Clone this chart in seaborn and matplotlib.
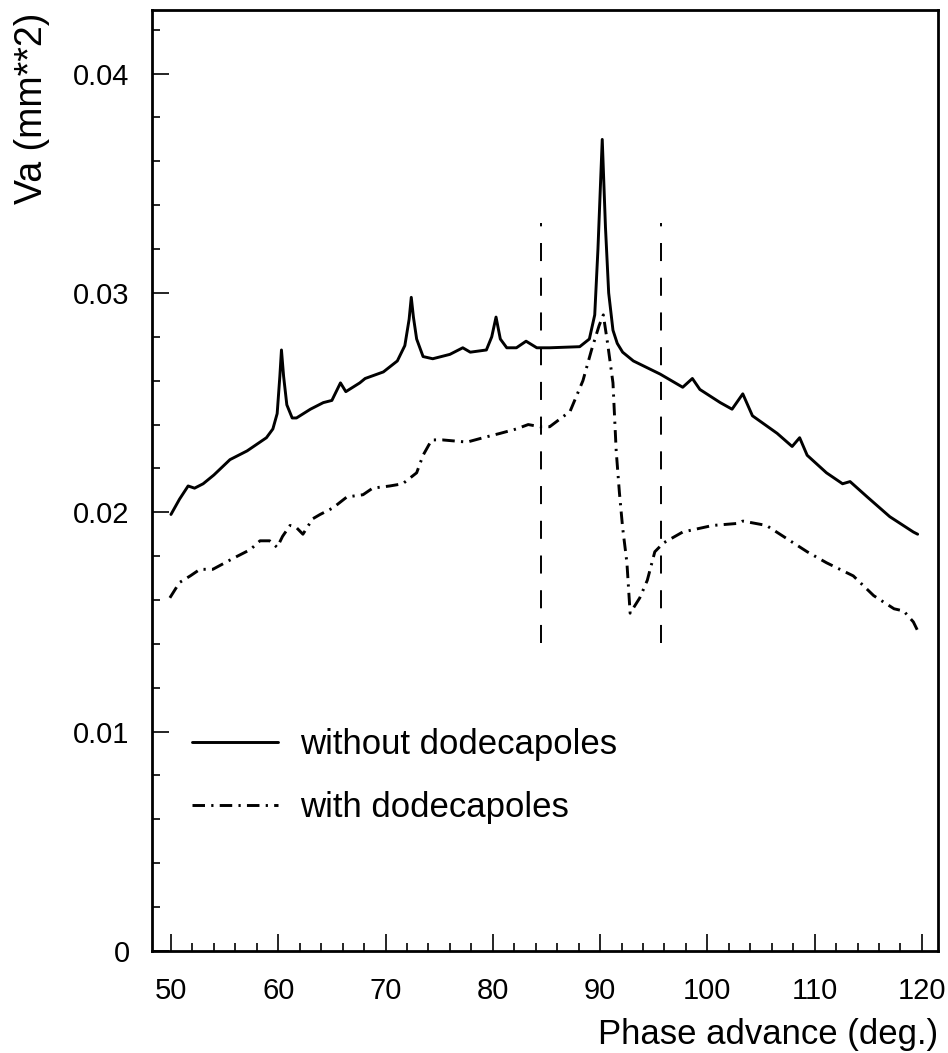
import numpy as np
import pandas as pd
import matplotlib
matplotlib.use("Agg")
import matplotlib.pyplot as plt
from matplotlib.ticker import MultipleLocator, FixedLocator
import seaborn as sns

# Phase advance scan (deg.) and the resulting Va (mm**2)
phase_without = [50.0, 50.8, 51.6, 52.2, 53.0, 54.0, 55.5, 57.1, 58.0, 58.9, 59.5, 59.9,
                 60.15, 60.3, 60.5, 60.8, 61.3, 61.7, 63.0, 64.2, 65.0, 65.8, 66.3, 67.6,
                 68.1, 69.8, 71.1, 71.8, 72.2, 72.4, 72.6, 72.9, 73.5, 74.4, 76.0, 77.2,
                 77.9, 79.4, 79.9, 80.3, 80.7, 81.3, 82.2, 83.1, 84.1, 85.3, 88.1, 89.0,
                 89.5, 89.8, 90.2, 90.5, 90.8, 91.2, 91.6, 92.1, 93.1, 95.6, 97.7, 98.6,
                 99.3, 101.2, 102.3, 103.3, 104.2, 106.5, 107.9, 108.6, 109.3, 111.1, 112.6,
                 113.3, 114.9, 117.0, 119.2, 119.6]
va_without = [0.0199, 0.0206, 0.0212, 0.0211, 0.0213, 0.0217, 0.0224, 0.0228, 0.0231, 0.0234,
              0.0238, 0.0245, 0.0262, 0.0274, 0.0262, 0.0249, 0.0243, 0.0243, 0.0247, 0.0250,
              0.0251, 0.0259, 0.0255, 0.0259, 0.0261, 0.0264, 0.0269, 0.0276, 0.0288, 0.0298,
              0.0289, 0.0279, 0.0271, 0.0270, 0.0272, 0.0275, 0.0273, 0.0274, 0.0280, 0.0289,
              0.0279, 0.0275, 0.0275, 0.0278, 0.0275, 0.0275, 0.02755, 0.0279, 0.0290, 0.0320,
              0.0370, 0.0330, 0.0300, 0.0283, 0.0277, 0.0273, 0.0269, 0.0263, 0.0257, 0.0261,
              0.0256, 0.0250, 0.0247, 0.0254, 0.0244, 0.0236, 0.0230, 0.0234, 0.0226, 0.0218,
              0.0213, 0.0214, 0.0207, 0.0198, 0.0191, 0.0190]

phase_with = [49.9, 50.8, 51.8, 52.7, 53.9, 55.8, 57.4, 58.3, 59.2, 59.9, 60.4, 61.1, 61.7,
              62.3, 63.2, 63.9, 65.1, 66.4, 67.9, 68.8, 70.4, 71.6, 72.9, 73.5, 74.3, 75.3,
              77.6, 79.1, 80.7, 82.2, 83.3, 84.4, 85.3, 87.2, 88.4, 89.2, 89.9, 90.3, 90.7,
              91.2, 91.5, 91.8, 92.1, 92.5, 92.8, 93.7, 94.4, 95.1, 95.9, 97.7, 100.5, 103.0,
              103.3, 105.5, 107.4, 109.3, 111.1, 113.6, 115.5, 117.4, 118.3, 119.2, 119.8]
va_with = [0.0161, 0.0168, 0.0171, 0.0174, 0.0174, 0.0179, 0.0183, 0.0187, 0.0187, 0.0184,
           0.0189, 0.0194, 0.0193, 0.0190, 0.0197, 0.0199, 0.0202, 0.0207, 0.0208, 0.0211,
           0.0212, 0.0213, 0.0218, 0.0226, 0.0233, 0.0233, 0.0232, 0.0234, 0.0236, 0.0238,
           0.0240, 0.0239, 0.0239, 0.0246, 0.0260, 0.0274, 0.0285, 0.0290, 0.0277, 0.0259,
           0.0228, 0.0209, 0.0193, 0.0177, 0.0154, 0.0161, 0.0169, 0.0182, 0.0186, 0.0191,
           0.0194, 0.0195, 0.0196, 0.0194, 0.0188, 0.0182, 0.0177, 0.0171, 0.0162, 0.0156,
           0.0155, 0.0150, 0.0144]

series_labels = ["without dodecapoles", "with dodecapoles"]

# Phase-advance window markers (dashed verticals) and their vertical extent
window_edges = [84.5, 95.7]
window_span = (0.01405, 0.0332)

x_major = [50, 60, 70, 80, 90, 100, 110, 120]
y_major = [0.0, 0.01, 0.02, 0.03, 0.04]
y_ticklabels = ["0", "0.01", "0.02", "0.03", "0.04"]

sns.set_theme(style="ticks")
plt.rcParams["font.family"] = ["Liberation Sans", "DejaVu Sans"]
plt.rcParams["lines.scale_dashes"] = False

df_without = pd.DataFrame({"phase": phase_without, "va": va_without})
df_with = pd.DataFrame({"phase": phase_with, "va": va_with})

fig = plt.figure(figsize=(9.48, 10.53), dpi=100)
ax = fig.add_axes([0.1603, 0.0969, 0.9895 - 0.1603, 0.9905 - 0.0969])

sns.lineplot(data=df_without, x="phase", y="va", ax=ax, color="black",
             linewidth=2.1, label=series_labels[0], sort=False, estimator=None)
sns.lineplot(data=df_with, x="phase", y="va", ax=ax, color="black",
             linewidth=2.1, linestyle=(0, (9, 4.5, 1.6, 4.5)),
             label=series_labels[1], sort=False, estimator=None)

ax.vlines(window_edges, window_span[0], window_span[1], colors="black",
          linewidth=1.4, linestyles=[(0, (13, 12))])

ax.set_xlim(48.23, 121.5)
ax.set_ylim(0, 0.0429)

ax.xaxis.set_major_locator(FixedLocator(x_major))
ax.xaxis.set_minor_locator(MultipleLocator(2))
ax.yaxis.set_major_locator(FixedLocator(y_major))
ax.yaxis.set_minor_locator(MultipleLocator(0.002))
ax.set_yticklabels(y_ticklabels)

ax.tick_params(which="both", direction="in", color="black", labelcolor="black",
               top=False, right=False, width=1.2)
ax.tick_params(which="major", length=12, labelsize=21)
ax.tick_params(which="minor", length=6)
ax.tick_params(axis="y", which="major", pad=16)
ax.tick_params(axis="x", which="major", pad=19)

for side in ["left", "right", "top", "bottom"]:
    ax.spines[side].set_visible(True)
    ax.spines[side].set_linewidth(2.0)
    ax.spines[side].set_color("black")

ax.set_xlabel("Phase advance (deg.)", fontsize=25, loc="right", labelpad=9, color="black")
ax.set_ylabel("Va (mm**2)", fontsize=27, loc="top", color="black")
ax.yaxis.set_label_coords(-0.13, 0.997)

leg = ax.legend(loc="upper left", bbox_to_anchor=(0.0509, 0.2370), frameon=False,
                fontsize=25, handlelength=2.48, handletextpad=0.63, labelspacing=0.86,
                borderpad=0, borderaxespad=0)
for t in leg.get_texts():
    t.set_color("black")

fig.savefig("out.png", dpi=100, facecolor="white")
